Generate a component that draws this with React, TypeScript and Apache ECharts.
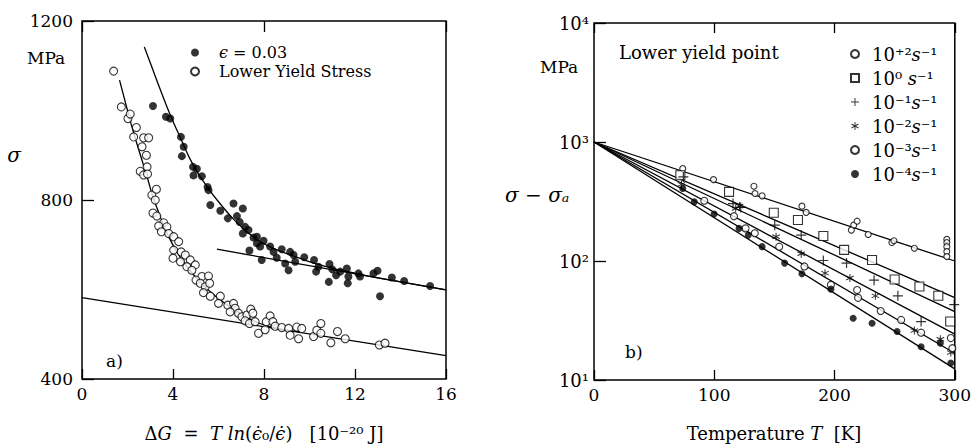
import React, { useEffect, useRef } from "react";
import * as echarts from "echarts";

const FONT = "DejaVu Serif";

// ---------- Panel a) ----------
const aXTicks = [0, 4, 8, 12, 16];
const aYTicks = [400, 800, 1200];

// filled circles: eps = 0.03
const epsPoints: [number, number][] = [
  [3.12, 1010], [3.69, 986], [3.88, 982], [4.35, 941], [4.47, 919], [4.39, 898],
  [4.88, 874], [5.05, 870], [4.9, 855], [5.27, 853], [5.52, 829], [5.56, 822],
  [5.64, 789], [6.08, 776], [6.41, 759], [6.66, 792], [6.81, 764], [7.07, 781],
  [6.93, 751], [7.17, 740], [7.07, 725], [7.32, 733], [7.54, 716], [7.69, 703],
  [7.69, 718], [7.98, 709], [7.83, 696], [7.36, 687], [7.9, 666], [8.27, 696],
  [8.42, 684], [8.78, 690], [8.56, 671], [8.93, 658], [9.15, 684], [9.3, 677],
  [9.08, 643], [9.37, 662], [9.77, 672], [10.2, 666], [10.39, 651], [10.29, 640],
  [10.88, 657], [11.0, 645], [10.85, 617], [11.17, 632], [11.35, 640], [11.64, 647],
  [11.71, 629], [11.68, 614], [12.15, 636], [12.22, 629], [12.81, 636], [12.99, 642],
  [13.1, 585], [13.62, 627], [14.16, 619], [15.3, 608]
];

// open circles: lower yield stress
const lysPoints: [number, number][] = [
  [1.39, 1088], [1.73, 1008], [2.02, 982], [2.12, 992], [2.39, 962], [2.27, 941],
  [2.71, 939], [2.93, 939], [2.64, 919], [2.83, 900], [2.56, 864], [2.86, 874],
  [2.71, 856], [2.88, 858], [3.07, 811], [3.27, 824], [3.22, 800], [3.12, 771],
  [3.29, 764], [3.59, 749], [3.37, 742], [3.73, 740], [3.49, 729], [3.81, 725],
  [4.03, 718], [4.25, 707], [4.03, 688], [4.36, 684], [4.0, 670], [4.54, 677],
  [4.33, 662], [4.76, 666], [4.98, 655], [4.61, 651], [4.83, 643], [5.27, 629],
  [5.56, 630], [5.01, 621], [5.2, 614], [5.42, 606], [5.61, 614], [5.34, 593],
  [5.64, 585], [6.08, 585], [6.0, 569], [6.41, 565], [6.66, 569], [6.73, 558],
  [6.51, 550], [6.88, 547], [7.03, 539], [7.25, 543], [7.42, 556], [7.51, 547],
  [7.17, 530], [7.36, 524], [7.61, 528], [7.76, 502], [8.05, 510], [8.1, 528],
  [8.27, 541], [8.39, 528], [8.49, 518], [8.78, 515], [9.08, 513], [9.15, 498],
  [9.44, 516], [9.52, 490], [9.66, 513], [10.18, 495], [10.32, 509], [10.5, 524],
  [10.5, 502], [10.94, 481], [11.23, 506], [11.57, 490], [13.07, 476], [13.32, 480]
];

const epsCurve: [number, number][] = [
  [2.74, 1142], [3.07, 1097], [3.44, 1047], [3.88, 990], [4.31, 941], [4.89, 878],
  [5.55, 826], [6.1, 790], [6.7, 755], [7.3, 727], [7.9, 705], [8.6, 688],
  [9.4, 673], [10.3, 657], [11.4, 643], [12.6, 630], [14.0, 617], [16.0, 599]
];
const epsLine: [number, number][] = [[5.93, 690], [16, 599]];

const lysCurve: [number, number][] = [
  [1.65, 1068], [2.0, 1000], [2.27, 950], [2.6, 895], [2.86, 852], [3.1, 810],
  [3.35, 775], [3.73, 727], [4.31, 673], [5.19, 617], [6.07, 577], [6.95, 547],
  [7.82, 524], [8.7, 512], [9.6, 505]
];
const lysLine: [number, number][] = [[0, 582], [16, 452]];

// ---------- Panel b) ----------
const bXTicks = [0, 100, 200, 300];
const rateNames = ["10⁺²s⁻¹", "10⁰ s⁻¹", "10⁻¹s⁻¹", "10⁻²s⁻¹", "10⁻³s⁻¹", "10⁻⁴s⁻¹"];

const ratePlus2: [number, number][] = [
  [73.8, 598], [99.4, 483], [133, 425], [133.9, 369], [139.8, 353], [172.9, 289],
  [176.4, 256], [216, 200], [218.8, 216], [214, 182], [228, 167], [247.7, 143],
  [249.4, 148], [266.4, 128], [293.4, 152], [293.4, 143], [293.4, 132], [293.4, 120],
  [293.4, 109]
];
const rate0: [number, number][] = [
  [71.8, 526], [112.3, 381], [149.5, 254], [169.6, 221], [190.7, 162], [208, 124],
  [231.2, 102], [250, 70], [270.6, 61], [286.3, 51], [296.2, 31]
];
const rateM1: [number, number][] = [
  [74.3, 509], [115.6, 304], [122, 282], [150.3, 200], [172.3, 165], [190.7, 101],
  [210, 96], [232.9, 69], [252.7, 51], [272, 31], [299.5, 43]
];
const rateM2: [number, number][] = [
  [72.7, 440], [117.8, 276], [121, 290], [151.4, 160], [172.3, 115], [192.1, 79],
  [212.8, 72], [234, 51], [266.4, 26], [288, 22], [296.7, 17]
];
const rateM3: [number, number][] = [
  [91.7, 321], [116.4, 238], [126, 188], [133.7, 171], [154, 132], [175, 90],
  [197, 63], [218.8, 57], [219.6, 49], [238.4, 38], [255.4, 32], [272, 25],
  [296.7, 22.5], [298, 18.5]
];
const rateM4: [number, number][] = [
  [73.8, 406], [83.4, 314], [99.9, 248], [120.6, 188], [128.3, 165], [139.8, 132],
  [158.5, 96], [172.9, 78], [197, 58], [215.5, 33], [231.2, 30], [252, 25.6],
  [272, 19], [288, 20.4], [296.7, 13.9]
];
const fitStart: [number, number] = [0, 1000];
const fitEndT = 300;
const fitEnds = [100, 49.3, 37.6, 24.3, 16.8, 12.4];

const SUP: Record<string, string> = {
  "0": "⁰", "1": "¹", "2": "²", "3": "³", "4": "⁴", "5": "⁵",
  "6": "⁶", "7": "⁷", "8": "⁸", "9": "⁹", "-": "⁻", "+": "⁺"
};
const sup = (s: string) => s.split("").map((c) => SUP[c] ?? c).join("");

const PLUS = "path://M4.4,0H5.6V4.4H10V5.6H5.6V10H4.4V5.6H0V4.4H4.4Z";
const STAR =
  "path://M4.4,10L4.4,0L5.6,0L5.6,10ZM9.03,8.02L0.37,3.02L0.97,1.98L9.63,6.98ZM9.63,3.02L0.97,8.02L0.37,6.98L9.03,1.98Z";
const SQUARE_ICON = "path://M0,0H10V10H0Z";

const openStyle = { color: "#fff", borderColor: "#000", borderWidth: 1.1 };
const fillStyle = { color: "#000" };

export default function App() {
  const ref = useRef<HTMLDivElement>(null);
  useEffect(() => {
    if (!ref.current) return;
    const chart = echarts.init(ref.current, undefined, { renderer: "svg" });
    const axisText = { fontFamily: FONT, fontSize: 16, color: "#000" };
    const tick = (len: number) => ({ show: true, inside: true, length: len, lineStyle: { color: "#000", width: 1.3 } });
    const lineS = (name: string, data: any, x: number, y: number, smooth = false) => ({
      name, type: "line", data, xAxisIndex: x, yAxisIndex: y, symbol: "none", smooth,
      lineStyle: { color: "#000", width: 1.3 }, z: 2, silent: true
    });
    const scat = (name: string, data: any, x: number, y: number, symbol: string, size: number, style: any) => ({
      name, type: "scatter", data, xAxisIndex: x, yAxisIndex: y, symbol, symbolSize: size,
      itemStyle: style, z: 3
    });
    const rateData = [ratePlus2, rate0, rateM1, rateM2, rateM3, rateM4];
    const rateSym = ["circle", "rect", PLUS, STAR, "circle", "circle"];
    const rateSize = [6, 9, 10, 8, 7, 7];
    const rateStyle = [openStyle, openStyle, fillStyle, fillStyle, openStyle, fillStyle];

    const italic = { fontStyle: "italic", fontFamily: FONT, fill: "#000" };
    const option: any = {
      animation: false,
      backgroundColor: "#fff",
      grid: [
        { left: 82, top: 21, width: 364, height: 358, show: true, borderColor: "#000", borderWidth: 1.5, backgroundColor: "transparent" },
        { left: 594, top: 23, width: 364, height: 357, show: true, borderColor: "#000", borderWidth: 1.5, backgroundColor: "transparent" }
      ],
      xAxis: [
        { type: "value", gridIndex: 0, min: aXTicks[0], max: aXTicks[aXTicks.length - 1], interval: 4,
          axisLine: { show: false }, axisTick: tick(10), splitLine: { show: false },
          axisLabel: { ...axisText, fontSize: 17, margin: 6, formatter: (v: number) => String(v) } },
        { type: "value", gridIndex: 0, position: "top", min: 0, max: 16, interval: 8,
          axisLine: { show: false }, axisTick: tick(11), splitLine: { show: false }, axisLabel: { show: false } },
        { type: "value", gridIndex: 1, min: bXTicks[0], max: bXTicks[bXTicks.length - 1], interval: 100,
          axisLine: { show: false }, axisTick: tick(10), splitLine: { show: false },
          axisLabel: { ...axisText, fontSize: 17, margin: 6, formatter: (v: number) => String(v) } },
        { type: "value", gridIndex: 1, position: "top", min: 0, max: 300, interval: 100,
          axisLine: { show: false }, axisTick: tick(10), splitLine: { show: false }, axisLabel: { show: false } }
      ],
      yAxis: [
        { type: "value", gridIndex: 0, min: aYTicks[0], max: aYTicks[aYTicks.length - 1], interval: 400,
          axisLine: { show: false }, axisTick: tick(12), splitLine: { show: false },
          axisLabel: { ...axisText, fontSize: 17, margin: 9, formatter: (v: number) => String(v) } },
        { type: "log", logBase: 10, gridIndex: 1, min: 10, max: 10000,
          axisLine: { show: false }, axisTick: tick(12), splitLine: { show: false }, minorTick: { show: false },
          axisLabel: { ...axisText, fontSize: 18, margin: 5, formatter: (v: number) => "10" + sup(String(Math.round(Math.log10(v)))) } }
      ],
      legend: [
        { data: ["ϵ = 0.03", "Lower Yield Stress"], left: 190, top: 43, orient: "vertical",
          itemWidth: 24, itemHeight: 8, itemGap: 0, padding: 0, selectedMode: false,
          formatter: (n: string) => (n === "ϵ = 0.03" ? "{i|ϵ} = 0.03" : n),
          textStyle: { fontFamily: FONT, fontSize: 16, color: "#000", lineHeight: 19, padding: [0, 0, 0, 7],
            rich: { i: { fontStyle: "italic", fontFamily: FONT, fontSize: 16, color: "#000" } } } },
        { data: rateNames.map((n, i) => (i === 1 ? { name: n, icon: SQUARE_ICON } : n)),
          left: 850, top: 42, orient: "vertical",
          itemWidth: 24, itemHeight: 8, itemGap: 0, padding: 0, selectedMode: false,
          formatter: (n: string) => n.replace("s", "{i|s}"),
          textStyle: { fontFamily: FONT, fontSize: 18, color: "#000", lineHeight: 24,
            rich: { i: { fontStyle: "italic", fontFamily: FONT, fontSize: 18, color: "#000" } } } }
      ],
      series: [
        lineS("fitLysLine", lysLine, 0, 0),
        lineS("fitEpsLine", epsLine, 0, 0),
        lineS("fitLysCurve", lysCurve, 0, 0, true),
        lineS("fitEpsCurve", epsCurve, 0, 0, true),
        scat("ϵ = 0.03", epsPoints, 0, 0, "circle", 8, fillStyle),
        scat("Lower Yield Stress", lysPoints, 0, 0, "circle", 8, openStyle),
        ...fitEnds.map((e, i) => lineS("fit" + i, [fitStart, [fitEndT, e]], 2, 1)),
        ...rateNames.map((n, i) => scat(n, rateData[i], 2, 1, rateSym[i], rateSize[i], rateStyle[i]))
      ],
      graphic: [
        { type: "text", x: 27, y: 58, style: { text: "MPa", fontFamily: FONT, fontSize: 17, fill: "#000", textVerticalAlign: "middle" } },
        { type: "text", x: 14, y: 155, style: { text: "σ", fontFamily: FONT, fontStyle: "italic", fontSize: 20, fill: "#000", textAlign: "center", textVerticalAlign: "middle" } },
        { type: "text", x: 106, y: 361, style: { text: "a)", fontFamily: FONT, fontSize: 17, fill: "#000", textVerticalAlign: "middle" } },
        { type: "text", x: 264, y: 433, style: {
          text: "Δ{i|G}  =  {i|T ln}({i|ϵ̇}₀/{i|ϵ̇})   [10⁻²⁰ J]",
          fontFamily: FONT, fontSize: 18, fill: "#000", textAlign: "center", textVerticalAlign: "middle",
          rich: { i: { ...italic, fontSize: 18 } } } },
        { type: "text", x: 540, y: 67, style: { text: "MPa", fontFamily: FONT, fontSize: 17, fill: "#000", textVerticalAlign: "middle" } },
        { type: "text", x: 505, y: 195, style: {
          text: "{i|σ} − {i|σₐ}", fontFamily: FONT, fontSize: 20, fill: "#000", textVerticalAlign: "middle",
          rich: { i: { ...italic, fontSize: 20 } } } },
        { type: "text", x: 619, y: 52, style: { text: "Lower yield point", fontFamily: FONT, fontSize: 18, fill: "#000", textVerticalAlign: "middle" } },
        { type: "text", x: 625, y: 352, style: { text: "b)", fontFamily: FONT, fontSize: 17, fill: "#000", textVerticalAlign: "middle" } },
        { type: "text", x: 774, y: 433, style: {
          text: "Temperature {i|T}  [K]", fontFamily: FONT, fontSize: 18, fill: "#000", textAlign: "center", textVerticalAlign: "middle",
          rich: { i: { ...italic, fontSize: 18 } } } }
      ]
    };
    chart.setOption(option);
    return () => chart.dispose();
  }, []);
  return <div ref={ref} style={{ position: "fixed", left: 0, top: 0, width: 974, height: 446, background: "#fff" }} />;
}
